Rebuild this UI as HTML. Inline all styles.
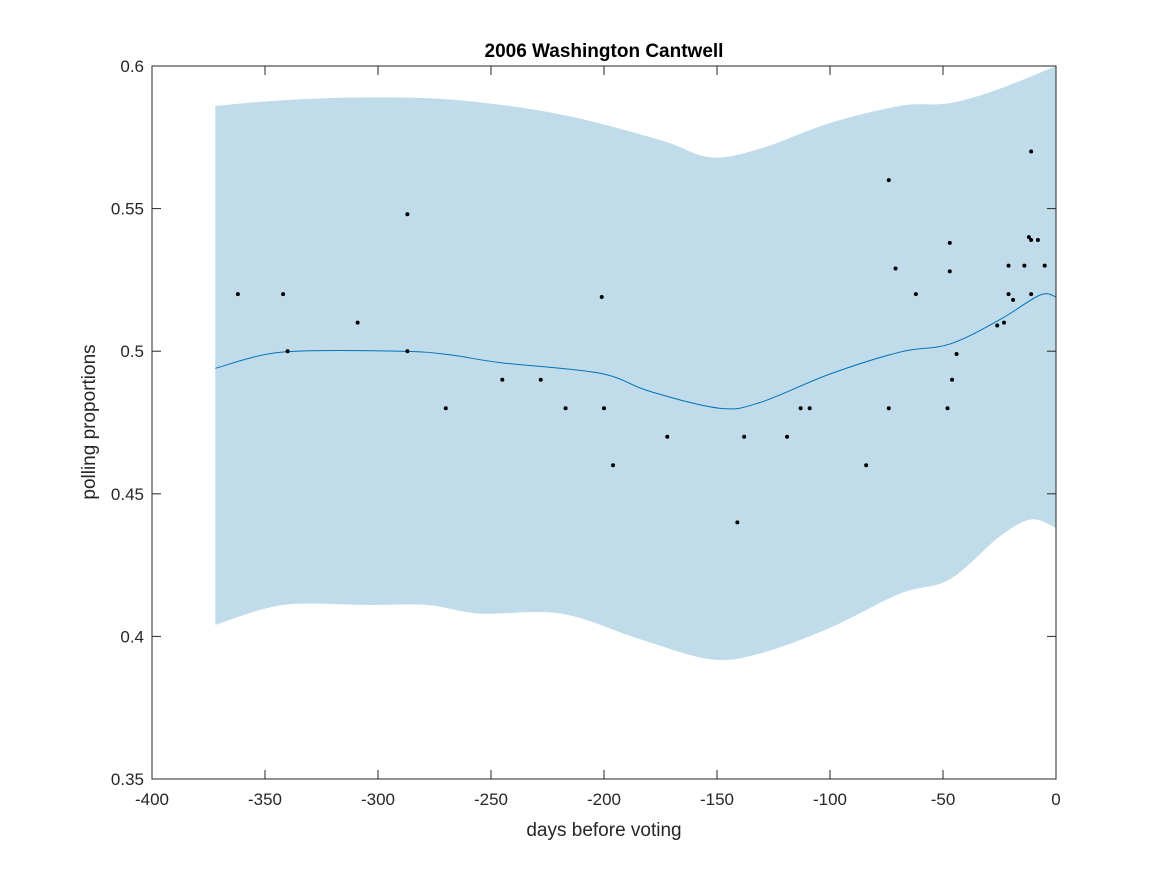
<!DOCTYPE html>
<html><head><meta charset="utf-8"><style>
body{margin:0;background:#fff}
svg{display:block;font-family:"Liberation Sans",sans-serif}
</style></head><body>
<svg id="chart" width="1167" height="875" xmlns="http://www.w3.org/2000/svg">
<rect width="1167" height="875" fill="#fff"/>
<g id="band"></g>
<g id="meanline"></g>
<g id="points"></g>
<g id="axes"></g>
<text x="604" y="57" text-anchor="middle" font-weight="bold" font-size="19">2006 Washington Cantwell</text>
<text x="604" y="836" text-anchor="middle" font-size="19" fill="#262626">days before voting</text>
<text transform="translate(95,422) rotate(-90)" text-anchor="middle" font-size="19" fill="#262626">polling proportions</text>
</svg>
<script>
const pollDays=[-362,-342,-340,-309,-287,-287,-270,-245,-228,-217,-201,-200,-196,-172,-141,-138,-119,-113,-109,-84,-74,-74,-71,-62,-48,-47,-47,-46,-44,-26,-23,-21,-21,-19,-14,-12,-11,-11,-11,-8,-5];
const pollVals=[0.52,0.52,0.50,0.51,0.50,0.548,0.48,0.49,0.49,0.48,0.519,0.48,0.46,0.47,0.44,0.47,0.47,0.48,0.48,0.46,0.56,0.48,0.529,0.52,0.48,0.538,0.528,0.49,0.499,0.509,0.51,0.53,0.52,0.518,0.53,0.54,0.52,0.57,0.539,0.539,0.53];
const upperDays=[-372,-342,-304,-264,-219,-175,-153,-131,-100,-69,-47,-25,0];
const upperVals=[0.586,0.588,0.589,0.588,0.583,0.574,0.568,0.571,0.580,0.586,0.587,0.592,0.6];
const lowerDays=[-372,-342,-304,-278,-255,-219,-184,-153,-131,-100,-69,-47,-25,-11,0];
const lowerVals=[0.404,0.411,0.411,0.411,0.408,0.408,0.399,0.392,0.394,0.403,0.415,0.42,0.435,0.441,0.438];
const meanDays=[-372,-342,-290,-268,-246,-202,-180,-149,-131,-100,-69,-47,-25,-7,0];
const meanVals=[0.494,0.4997,0.5,0.4987,0.496,0.4923,0.486,0.480,0.482,0.492,0.4997,0.5025,0.511,0.5197,0.519];
const xTicks=[-400,-350,-300,-250,-200,-150,-100,-50,0];
const yTicks=[0.35,0.4,0.45,0.5,0.55,0.6];
const yTickLabels=["0.35","0.4","0.45","0.5","0.55","0.6"];

const L=152,R=1056,T=66,B=779;
const xs=d=>L+(d+400)/400*(R-L);
const ys=v=>B-(v-0.35)/0.25*(B-T);
const NS="http://www.w3.org/2000/svg";
function mk(t,a,p){const e=document.createElementNS(NS,t);for(const k in a)e.setAttribute(k,a[k]);p.appendChild(e);return e;}
function smooth(pts){let d="";for(let i=0;i<pts.length-1;i++){const p0=pts[Math.max(0,i-1)],p1=pts[i],p2=pts[i+1],p3=pts[Math.min(pts.length-1,i+2)];
const c1=[p1[0]+(p2[0]-p0[0])/6,p1[1]+(p2[1]-p0[1])/6],c2=[p2[0]-(p3[0]-p1[0])/6,p2[1]-(p3[1]-p1[1])/6];
d+=` C${c1[0]},${c1[1]} ${c2[0]},${c2[1]} ${p2[0]},${p2[1]}`;}return d;}
const up=upperDays.map((d,i)=>[xs(d),ys(upperVals[i])]);
const lo=lowerDays.map((d,i)=>[xs(d),ys(lowerVals[i])]).reverse();
const bandPath="M"+up[0]+smooth(up)+" L"+lo[0]+smooth(lo)+"Z";
const band=mk("path",{d:bandPath,fill:"#c0dcea"},document.getElementById("band"));


const mp=meanDays.map((d,i)=>[xs(d),ys(meanVals[i])]);
const ml=mk("path",{d:"M"+mp[0]+smooth(mp),fill:"none",stroke:"#0072bd","stroke-width":1},document.getElementById("meanline"));


const pg=document.getElementById("points");
pollDays.forEach((d,i)=>{const c=mk("circle",{cx:xs(d),cy:ys(pollVals[i]),r:2,fill:"#000"},pg);

});
const ax=document.getElementById("axes");
const box=mk("rect",{x:L,y:T,width:R-L,height:B-T,fill:"none",stroke:"#262626","stroke-width":1},ax);


xTicks.forEach(t=>{const x=xs(t);
mk("line",{x1:x,y1:B,x2:x,y2:B-9,stroke:"#262626"},ax);
mk("line",{x1:x,y1:T,x2:x,y2:T+9,stroke:"#262626"},ax);
const tx=mk("text",{x:x,y:B+26,"text-anchor":"middle","font-size":17,fill:"#262626"},ax);tx.textContent=t;

});
yTicks.forEach((t,i)=>{const y=ys(t);
mk("line",{x1:L,y1:y,x2:L+9,y2:y,stroke:"#262626"},ax);
mk("line",{x1:R,y1:y,x2:R-9,y2:y,stroke:"#262626"},ax);
const tx=mk("text",{x:L-8,y:y+6,"text-anchor":"end","font-size":17,fill:"#262626"},ax);tx.textContent=yTickLabels[i];

});
</script>
</body></html>
